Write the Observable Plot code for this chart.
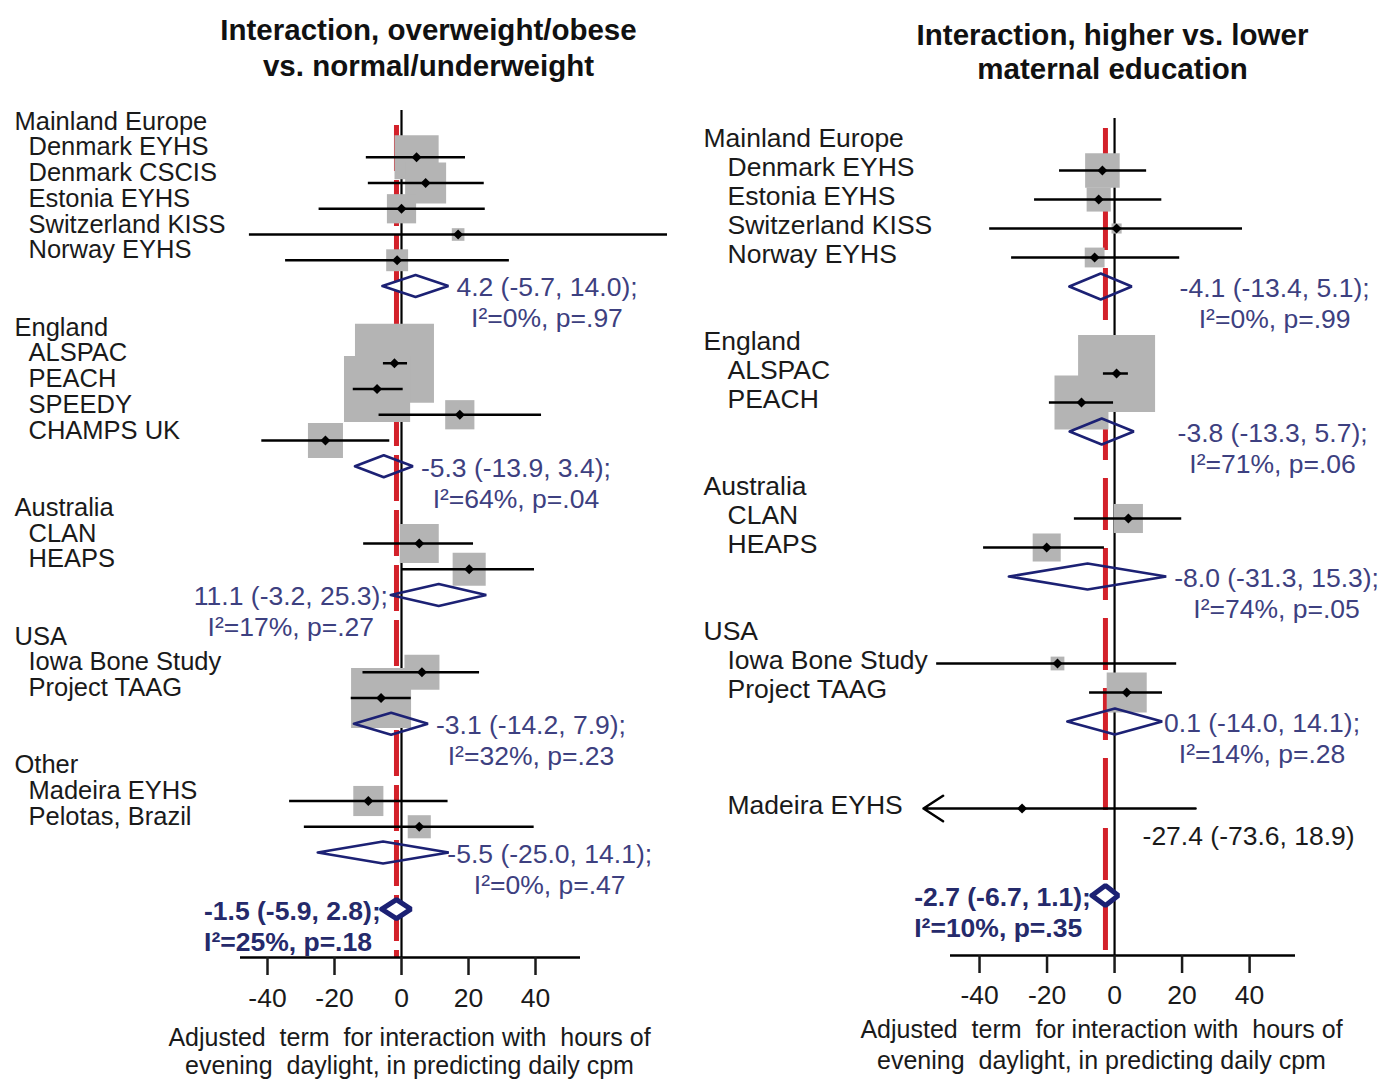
<!DOCTYPE html>
<html>
<head>
<meta charset="utf-8">
<script src="https://cdn.jsdelivr.net/npm/d3@7"></script>
<script src="https://cdn.jsdelivr.net/npm/@observablehq/plot@0.6"></script>
<style>
  html, body { margin: 0; padding: 0; background: #fff; }
  #wrap { position: relative; width: 1384px; height: 1081px; overflow: hidden; }
  #left, #right { position: absolute; top: 0; }
  #left { left: 0; }
  #right { left: 692px; }
</style>
</head>
<body>
<div id="wrap"><div id="left"></div><div id="right"></div></div>
<script>
// ---------------- LEFT PANEL DATA ----------------
const leftTitle = ["Interaction, overweight/obese", "vs. normal/underweight"];
const leftGroups = ["Mainland Europe", "England", "Australia", "USA", "Other"];
const leftStudies = ["Denmark EYHS", "Denmark CSCIS", "Estonia EYHS", "Switzerland KISS", "Norway EYHS",
  "ALSPAC", "PEACH", "SPEEDY", "CHAMPS UK", "CLAN", "HEAPS", "Iowa Bone Study", "Project TAAG",
  "Madeira EYHS", "Pelotas, Brazil"];
const leftStudyGroup = [0, 0, 0, 0, 0, 1, 1, 1, 1, 2, 2, 3, 3, 4, 4];
const leftEst = [4.5, 7.2, 0.0, 16.9, -1.3, -2.1, -7.3, 17.4, -22.7, 5.3, 20.2, 6.1, -6.1, -9.9, 5.3];
const leftLo = [-10.5, -9.9, -24.6, -45.4, -34.6, -5.4, -14.4, -6.7, -41.7, -11.3, 0.2, -11.5, -15.0, -33.4, -29.0];
const leftHi = [19.1, 24.7, 25.0, 79.4, 32.2, 1.8, 0.5, 41.8, -3.5, 21.5, 39.7, 23.3, 2.9, 13.9, 39.6];
const leftWeight = [7.3, 6.3, 3.2, 0.6, 1.8, 23.4, 16.4, 3.2, 4.6, 5.7, 4.1, 4.6, 13.5, 3.4, 2.0];
const leftSubEst = [4.2, -5.3, 11.1, -3.1, -5.5];
const leftSubLo = [-5.7, -13.9, -3.2, -14.2, -25.0];
const leftSubHi = [14.0, 3.4, 25.3, 7.9, 14.1];
const leftSubText = ["4.2 (-5.7, 14.0);", "-5.3 (-13.9, 3.4);", "11.1 (-3.2, 25.3);", "-3.1 (-14.2, 7.9);", "-5.5 (-25.0, 14.1);"];
const leftSubHet = ["I²=0%, p=.97", "I²=64%, p=.04", "I²=17%, p=.27", "I²=32%, p=.23", "I²=0%, p=.47"];
const leftNoteSide = ["right", "right", "left", "right", "right"];
const leftNoteAt = [14.0, 3.4, -3.2, 7.9, 11.3];
const leftOverall = [-1.5, -5.9, 2.8];
const leftOverallText = ["-1.5 (-5.9, 2.8);", "I²=25%, p=.18"];

// ---------------- RIGHT PANEL DATA ----------------
const rightTitle = ["Interaction, higher vs. lower", "maternal education"];
const rightGroups = ["Mainland Europe", "England", "Australia", "USA", null];
const rightStudies = ["Denmark EYHS", "Estonia EYHS", "Switzerland KISS", "Norway EYHS",
  "ALSPAC", "PEACH", "CLAN", "HEAPS", "Iowa Bone Study", "Project TAAG", "Madeira EYHS"];
const rightStudyGroup = [0, 0, 0, 0, 1, 1, 2, 2, 3, 3, 4];
const rightEst = [-3.6, -4.7, 0.6, -5.9, 0.6, -9.8, 4.1, -20.1, -16.9, 3.6, -27.4];
const rightLo = [-16.3, -23.7, -37.0, -30.5, -3.3, -19.3, -11.9, -38.8, -52.7, -7.4, -73.6];
const rightHi = [9.5, 14.0, 37.9, 19.3, 4.1, -0.3, 19.9, -3.0, 18.4, 14.2, 24.0];
const rightWeight = [8.2, 4.0, 0.7, 2.7, 40.7, 20.0, 5.8, 5.4, 1.3, 11.0, 0.2];
const rightStudyNote = [null, null, null, null, null, null, null, null, null, null, "-27.4 (-73.6, 18.9)"];
const rightSubEst = [-4.1, -3.8, -8.0, 0.1];
const rightSubLo = [-13.4, -13.3, -31.3, -14.0];
const rightSubHi = [5.1, 5.7, 15.3, 14.1];
const rightSubText = ["-4.1 (-13.4, 5.1);", "-3.8 (-13.3, 5.7);", "-8.0 (-31.3, 15.3);", "0.1 (-14.0, 14.1);"];
const rightSubHet = ["I²=0%, p=.99", "I²=71%, p=.06", "I²=74%, p=.05", "I²=14%, p=.28"];
const rightNoteSide = ["right", "right", "right", "right"];
const rightNoteAt = [16.9, 16.3, 15.3, 12.3];
const rightOverall = [-2.7, -6.7, 1.1];
const rightOverallText = ["-2.7 (-6.7, 1.1);", "I²=10%, p=.35"];
const rightTruncateAt = -56.6;

const xTicks = [-40, -20, 0, 20, 40];
const xLabel = ["Adjusted\u00a0 term\u00a0 for interaction with\u00a0 hours of", "evening\u00a0 daylight, in predicting daily cpm"];

// ---------------- STYLE ----------------
const FONT = "'Liberation Sans', Arial, Helvetica, sans-serif";
const FS = 26.5;
const NOTE_BLUE = "#3d4080";
const DIAMOND = "#1c2174";
const BOLD_BLUE = "#252a6b";
const RED = "#d3212a";
const GRAY = "#b4b4b4";
const INK = "#1a1a1a";

const ctx = document.createElement("canvas").getContext("2d");
function textWidth(s, size, weight) {
  ctx.font = `${weight || "normal"} ${size}px ${FONT}`;
  return ctx.measureText(s).width;
}

function buildPanel(p) {
  const W = 692, H = 1081;
  const xs = d3.scaleLinear().domain(p.xDomain).range([p.marginLeft, W - p.marginRight]);
  const toRow = (px) => (px - p.rowOrigin) / p.rowUnit;
  const rowAxis = toRow(p.axisPx);
  const marginTop = p.rowOrigin - p.rowUnit;

  // row layout from group structure
  const headers = [], studies = [], subs = [];
  let r = 0;
  p.groups.forEach((g, gi) => {
    if (g) headers.push({ label: g, row: r });
    r += 1;
    p.studies.forEach((s, i) => {
      if (p.studyGroup[i] === gi) {
        studies.push({ label: s, row: r, est: p.est[i], lo: p.lo[i], hi: p.hi[i], w: p.weight[i],
          note: p.studyNote ? p.studyNote[i] : null });
        r += 1;
      }
    });
    if (gi < p.subEst.length) {
      subs.push({ row: r, est: p.subEst[gi], lo: p.subLo[gi], hi: p.subHi[gi],
        t1: p.subText[gi], t2: p.subHet[gi], side: p.noteSide[gi], at: p.noteAt[gi] });
      r += 2;
    }
  });
  const overallRow = r + p.overallGap;
  const [oEst, oLo, oHi] = p.overall;

  // diamonds as closed polygons
  const hSub = p.subH / p.rowUnit, hAll = p.overallH / p.rowUnit;
  const subPoly = subs.flatMap((d, i) => [
    { id: i, x: d.lo, y: d.row }, { id: i, x: d.est, y: d.row - hSub },
    { id: i, x: d.hi, y: d.row }, { id: i, x: d.est, y: d.row + hSub }, { id: i, x: d.lo, y: d.row }
  ]);
  const allPoly = [
    { x: oLo, y: overallRow }, { x: oEst, y: overallRow - hAll },
    { x: oHi, y: overallRow }, { x: oEst, y: overallRow + hAll }, { x: oLo, y: overallRow }
  ];

  // annotation placement
  const note1 = [], note2 = [];
  subs.forEach((d) => {
    const w1 = textWidth(d.t1, FS);
    const start = d.side === "right" ? xs(d.at) + 8 : xs(d.at) - 3 - w1;
    note1.push({ x: xs.invert(start), row: d.row, text: d.t1 });
    note2.push({ x: xs.invert(start + w1 / 2), row: d.row, text: d.t2 });
  });
  const wb = textWidth(p.overallText[0], FS, "bold");
  const oStart = xs.invert(xs(oLo) - 1 - wb);
  const overallLine1 = [{ x: oStart, row: overallRow, text: p.overallText[0] }];
  const overallLine2 = [{ x: oStart, row: overallRow, text: p.overallText[1] }];

  const clip = p.truncateAt ?? -Infinity;
  const normal = studies.filter((d) => d.lo >= clip);
  const truncated = studies.filter((d) => d.lo < clip).map((d) => ({ ...d, tip: clip }));

  const titleX = xs.invert(p.titleCenter);
  const xlabX = xs.invert(p.xlabCenter);
  const rMax = d3.max(studies, (d) => d.w);

  return Plot.plot({
    width: W,
    height: H,
    marginLeft: p.marginLeft,
    marginRight: p.marginRight,
    marginTop: marginTop,
    marginBottom: H - p.axisPx,
    style: { fontFamily: FONT, fontSize: FS + "px", color: INK, background: "white", overflow: "visible" },
    x: { domain: p.xDomain, range: [p.marginLeft, W - p.marginRight] },
    y: { domain: [rowAxis, -1], range: [p.axisPx, marginTop], axis: null },
    r: { type: "sqrt", domain: [0, rMax], range: [0, p.maxSide / Math.sqrt(Math.PI)] },
    marks: [
      // reference lines
      Plot.ruleX([0], { y1: toRow(p.zeroTopPx), y2: rowAxis, stroke: "black", strokeWidth: 2.2 }),
      Plot.ruleX([oEst], { y1: toRow(p.redTopPx), y2: rowAxis, stroke: RED, strokeWidth: 5, strokeDasharray: p.redDash }),
      // weight boxes
      Plot.dot(studies, { x: "est", y: "row", r: "w", symbol: "square", fill: GRAY, stroke: "none" }),
      // confidence intervals
      Plot.ruleY(normal, { y: "row", x1: "lo", x2: "hi", stroke: "black", strokeWidth: 2.5 }),
      Plot.arrow(truncated, { x1: "hi", x2: "tip", y1: "row", y2: "row", stroke: "black", strokeWidth: 2.5, headLength: 14, headAngle: 66 }),
      Plot.dot(studies, { x: "est", y: "row", symbol: "diamond2", r: 4.5, fill: "black", stroke: "none" }),
      // subgroup and overall diamonds
      Plot.line(subPoly, { x: "x", y: "y", z: "id", stroke: DIAMOND, strokeWidth: 2.6, fill: "none", strokeLinejoin: "miter" }),
      Plot.line(allPoly, { x: "x", y: "y", stroke: DIAMOND, strokeWidth: 5, fill: "white", strokeLinejoin: "miter" }),
      // labels
      Plot.text(headers, { y: "row", text: "label", frameAnchor: "left", dx: p.headerDx, dy: p.labelDy, textAnchor: "start", fontSize: p.labelFS, fill: INK }),
      Plot.text(studies, { y: "row", text: "label", frameAnchor: "left", dx: p.studyDx, dy: p.labelDy, textAnchor: "start", fontSize: p.labelFS, fill: INK }),
      Plot.text(studies.filter((d) => d.note), { x: 0, y: "row", text: "note", dx: 28, dy: 28, textAnchor: "start", fontSize: FS, fill: INK }),
      // subgroup annotations
      Plot.text(note1, { x: "x", y: "row", text: "text", dy: 2, textAnchor: "start", fontSize: FS, fill: NOTE_BLUE }),
      Plot.text(note2, { x: "x", y: "row", text: "text", dy: 33, textAnchor: "middle", fontSize: FS, fill: NOTE_BLUE }),
      Plot.text(overallLine1, { x: "x", y: "row", text: "text", dy: 2, textAnchor: "start", fontSize: FS, fontWeight: "bold", fill: BOLD_BLUE }),
      Plot.text(overallLine2, { x: "x", y: "row", text: "text", dy: 33, textAnchor: "start", fontSize: FS, fontWeight: "bold", fill: BOLD_BLUE }),
      // titles
      Plot.text([p.title.join("\n")], { x: titleX, y: toRow((p.titleLines[0] + p.titleLines[1]) / 2), text: (d) => d, textAnchor: "middle",
        fontSize: 29.5, fontWeight: "bold", fill: "#111", lineHeight: (p.titleLines[1] - p.titleLines[0]) / 29.5 }),
      // axis
      Plot.ruleY([rowAxis], { x1: p.xDomain[0], x2: p.xDomain[1], stroke: "black", strokeWidth: 2.5 }),
      Plot.axisX({ ticks: xTicks, tickFormat: (d) => `${d}`, tickSize: 18, tickPadding: p.tickPadding, fontSize: FS, strokeWidth: 2.5, label: null, fill: INK }),
      Plot.text([xLabel.join("\n")], { x: xlabX, y: toRow((p.xlabLines[0] + p.xlabLines[1]) / 2), text: (d) => d, textAnchor: "middle",
        fontSize: 25, fill: INK, lineHeight: (p.xlabLines[1] - p.xlabLines[0]) / 25 })
    ]
  });
}

document.getElementById("left").append(buildPanel({
  title: leftTitle, groups: leftGroups, studies: leftStudies, studyGroup: leftStudyGroup,
  est: leftEst, lo: leftLo, hi: leftHi, weight: leftWeight,
  subEst: leftSubEst, subLo: leftSubLo, subHi: leftSubHi, subText: leftSubText, subHet: leftSubHet,
  noteSide: leftNoteSide, noteAt: leftNoteAt, overall: leftOverall, overallText: leftOverallText,
  xDomain: [-48.06, 53.43], marginLeft: 240, marginRight: 112,
  rowOrigin: 131, rowUnit: 25.75, axisPx: 957, overallGap: 0.2,
  headerDx: -226, studyDx: -212, labelDy: -10, labelFS: 25.5,
  subH: 11, overallH: 9.5, maxSide: 79,
  zeroTopPx: 110, redTopPx: 125, redDash: "46,9",
  titleCenter: 428, titleLines: [28, 64], xlabCenter: 409, xlabLines: [1037, 1065], tickPadding: 13
}));

document.getElementById("right").append(buildPanel({
  title: rightTitle, groups: rightGroups, studies: rightStudies, studyGroup: rightStudyGroup,
  est: rightEst, lo: rightLo, hi: rightHi, weight: rightWeight, studyNote: rightStudyNote,
  subEst: rightSubEst, subLo: rightSubLo, subHi: rightSubHi, subText: rightSubText, subHet: rightSubHet,
  noteSide: rightNoteSide, noteAt: rightNoteAt, overall: rightOverall, overallText: rightOverallText,
  truncateAt: rightTruncateAt,
  xDomain: [-48.6, 53.6], marginLeft: 258, marginRight: 89,
  rowOrigin: 141, rowUnit: 29, axisPx: 955, overallGap: 2,
  headerDx: -247, studyDx: -223, labelDy: -3, labelFS: 26.5,
  subH: 13, overallH: 10, maxSide: 77,
  zeroTopPx: 118, redTopPx: 128, redDash: "52,18",
  titleCenter: 420, titleLines: [34, 68], xlabCenter: 409, xlabLines: [1028, 1059], tickPadding: 12
}));
</script>
</body>
</html>
